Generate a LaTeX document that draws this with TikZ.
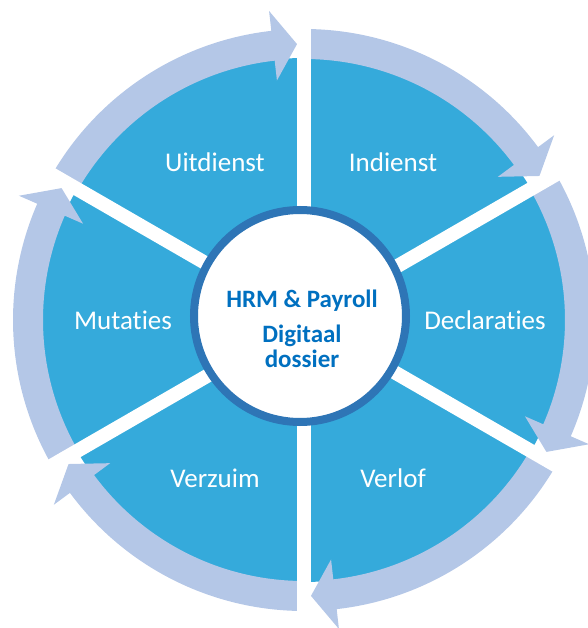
\documentclass[tikz,border=0pt]{standalone}
\usepackage{fontspec}
\setmainfont{Carlito}[Ligatures=NoCommon]
\definecolor{sectorblue}{RGB}{53,170,219}
\definecolor{ringblue}{RGB}{180,199,231}
\definecolor{hubring}{RGB}{46,117,182}
\definecolor{hubblue}{RGB}{0,112,192}
\tikzset{
  steplabel/.style={text=white,font=\fontsize{27}{32}\selectfont,anchor=base},
  hubtext/.style={text=hubblue,font=\fontsize{25}{30}\selectfont\bfseries,anchor=base},
  hub/.style={circle,draw=hubring,line width=8pt,fill=white,minimum size=212pt,inner sep=0pt}
}
\begin{document}
\begin{tikzpicture}[x=1pt,y=1pt]
\useasboundingbox (-304,-308) rectangle (283,320);

% Blue disc for the six sectors
\fill[sectorblue] (0,0) circle (262);

% Cycle arrows around the disc (clockwise)
\foreach \a in {150,90,30,-30,-90,-150} {
  \pgfmathsetmacro{\tip}{\a-60+1.45}
  \pgfmathsetmacro{\back}{\a-60+6.45}
  \fill[ringblue] (\a:261) arc[start angle=\a, end angle=\back, radius=261]
    -- (\back:241) -- (\tip:276) -- (\back:311) -- (\back:291)
    arc[start angle=\back, end angle=\a, radius=291] -- cycle;
}

% White gaps between the sectors
\foreach \a in {90,30,-30,-90,-150,150}
  \draw[white,line width=14pt] (0,0) -- (\a:335);

% Centre circle
\node[hub] (hub) at (-4,4) {};
\node[hubtext] (hrm) at (-2,12) {HRM \& Payroll};
\node[hubtext] (digitaal) at (-2,-23) {Digitaal};
\node[hubtext] (dossier) at (-2,-48) {dossier};

% Sector labels
\node[steplabel] (uitdienst) at (-89,148) {Uitdienst};
\node[steplabel] (indienst) at (89,148) {Indienst};
\node[steplabel] (declaraties) at (181,-10) {Declaraties};
\node[steplabel] (verlof) at (89,-167) {Verlof};
\node[steplabel] (verzuim) at (-89,-167) {Verzuim};
\node[steplabel] (mutaties) at (-181,-10) {Mutaties};
\end{tikzpicture}
\end{document}
